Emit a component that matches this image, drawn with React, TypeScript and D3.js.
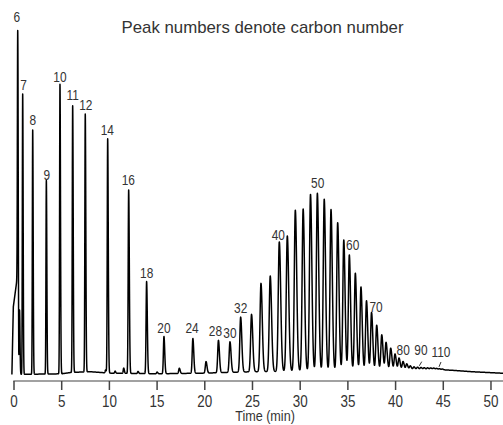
import React from 'react';
import * as d3 from 'd3';

const W = 503;
const H = 425;

// Retention times (min) of the peaks and their heights (% of the C6 apex)
const peakTimes = [
  0.39, 0.58, 0.91, 1.96, 3.39, 4.82, 6.15, 7.47, 9.6, 9.82, 10.6, 11.5, 12.02, 13.0, 13.9, 15.0,
  15.72, 17.33, 18.75, 20.13, 21.43, 22.64, 23.76, 24.9, 25.89, 26.86, 27.81, 28.65, 29.49,
  30.31, 31.08, 31.8, 32.52, 33.23, 33.93, 34.57, 35.15, 35.78, 36.37, 36.95, 37.48, 38.02,
  38.55, 39.0, 39.49, 39.94, 40.36, 40.78, 41.17, 41.54, 41.93, 42.3, 42.66, 43.0, 43.35,
  43.68, 44.0, 44.3, 44.6, 44.9,
];
const peakHeights = [
  71.5, 18.5, 80.7, 70.3, 55.7, 83.3, 76.7, 74.2, 0.8, 67.4, 0.6, 1.5, 52.8, 0.6, 26.5, 0.5,
  10.7, 1.5, 10.0, 3.3, 9.3, 8.8, 15.8, 16.5, 25.4, 27.5, 37.3, 39.0, 46.4,
  46.7, 50.9, 51.2, 49.5, 46.5, 42.7, 37.7, 33.4, 28.1, 24.1, 20.1, 16.7, 13.0,
  10.2, 8.0, 6.3, 4.6, 3.4, 2.4, 1.7, 1.1, 0.8, 0.7, 0.6, 0.5, 0.45,
  0.4, 0.35, 0.3, 0.25, 0.2,
];

// Solvent front shoulder before the C6 peak
const frontTimes = [-0.22, -0.07, 0.35, 0.42, 0.5];
const frontValues = [0, 19.5, 28.1, 27, 0];

// Baseline drift
const driftTimes = [-0.3, 5, 6, 8, 10, 15, 20, 25, 30, 35, 40, 44, 46, 48, 51.3];
const driftValues = [0, 0.2, 0.6, 0.8, 0.4, 0.2, 0.4, 0.8, 0.9, 1.0, 1.3, 1.5, 1.2, 0.8, 0.35];

// Peak width (sigma, min) along the run
const widthTimes = [0, 10, 16, 22, 28, 34, 40, 46];
const widthSigmas = [0.035, 0.045, 0.06, 0.08, 0.11, 0.1, 0.09, 0.08];

// Carbon-number labels
const labelTexts = ['6', '7', '8', '9', '10', '11', '12', '14', '16', '18', '20', '24', '28', '30', '32', '40', '50', '60', '70', '80', '90', '110'];
const labelTimes = [0.3, 1.0, 1.96, 3.43, 4.82, 6.15, 7.52, 9.78, 11.98, 13.91, 15.72, 18.66, 21.12, 22.64, 23.76, 27.7, 31.83, 35.5, 37.95, 40.8, 42.66, 44.76];
const labelLevels = [101.4, 81.9, 71.8, 56.1, 84.2, 79.0, 76.1, 68.8, 54.5, 27.8, 11.9, 11.9, 11.1, 10.6, 17.7, 38.7, 53.7, 35.7, 18.1, 5.6, 5.6, 5.0];

// Leader strokes for the 90 and 110 labels
const leaderT1 = [42.49, 44.55];
const leaderL1 = [2.5, 2.2];
const leaderT2 = [42.74, 44.76];
const leaderL2 = [3.7, 3.6];

const xTicks = [0, 5, 10, 15, 20, 25, 30, 35, 40, 45, 50];
const title = 'Peak numbers denote carbon number';
const xTitle = 'Time (min)';

const FONT = "'Liberation Sans', Arial, sans-serif";

function CText({ x, y, size, sx, children }: { x: number; y: number; size: number; sx: number; children: React.ReactNode }) {
  return (
    <text transform={`translate(${x},${y}) scale(${sx},1)`} textAnchor="middle" fontSize={size} fill="#333">
      {children}
    </text>
  );
}

export default function App() {
  const x = d3.scaleLinear().domain([0, 51.26]).range([14, 503]);
  const y = d3.scaleLinear().domain([0, 100]).range([374.5, 27]);

  const drift = d3.scaleLinear().domain(driftTimes).range(driftValues).clamp(true);
  const front = d3.scaleLinear().domain(frontTimes).range(frontValues).clamp(true);
  const sig = d3.scaleLinear().domain(widthTimes).range(widthSigmas).clamp(true);

  const sigmas = peakTimes.map((t) => sig(t));
  const pts: [number, number][] = [];
  for (let t = -0.22; t <= 51.27; t += 0.005) {
    let v = drift(t) + front(t);
    for (let i = 0; i < peakTimes.length; i++) {
      const dt = t - peakTimes[i];
      const s = dt < 0 ? sigmas[i] : sigmas[i] * 1.35;
      const z = dt / s;
      if (z > -6 && z < 6) v += peakHeights[i] * Math.exp(-0.5 * z * z);
    }
    pts.push([t, v]);
  }
  const line = d3.line<[number, number]>().x((d) => x(d[0])).y((d) => y(d[1]));
  const axisY = 381;

  return (
    <svg width={W} height={H} style={{ position: 'absolute', left: 0, top: 0, background: '#fff' }} fontFamily={FONT}>
      <text x={262.5} y={33} textAnchor="middle" fontSize={17} fill="#333" textLength={282} lengthAdjust="spacingAndGlyphs">{title}</text>
      <path d={line(pts) || ''} fill="none" stroke="#000" strokeWidth={1.5} strokeLinejoin="round" />
      {labelTexts.map((s, i) => (
        <CText key={s} x={x(labelTimes[i])} y={y(labelLevels[i])} size={14} sx={0.85}>{s}</CText>
      ))}
      {leaderT1.map((t, i) => (
        <line key={i} x1={x(t)} y1={y(leaderL1[i])} x2={x(leaderT2[i])} y2={y(leaderL2[i])} stroke="#333" strokeWidth={1} />
      ))}
      <line x1={x(0) - 0.7} x2={W} y1={axisY} y2={axisY} stroke="#444" strokeWidth={1.2} />
      {xTicks.map((t) => (
        <g key={t}>
          <line x1={x(t)} x2={x(t)} y1={axisY} y2={axisY + 9} stroke="#444" strokeWidth={1.5} />
          <CText x={x(t)} y={406.5} size={16} sx={0.84}>{t}</CText>
        </g>
      ))}
      <CText x={265} y={421} size={14} sx={0.9}>{xTitle}</CText>
    </svg>
  );
}
